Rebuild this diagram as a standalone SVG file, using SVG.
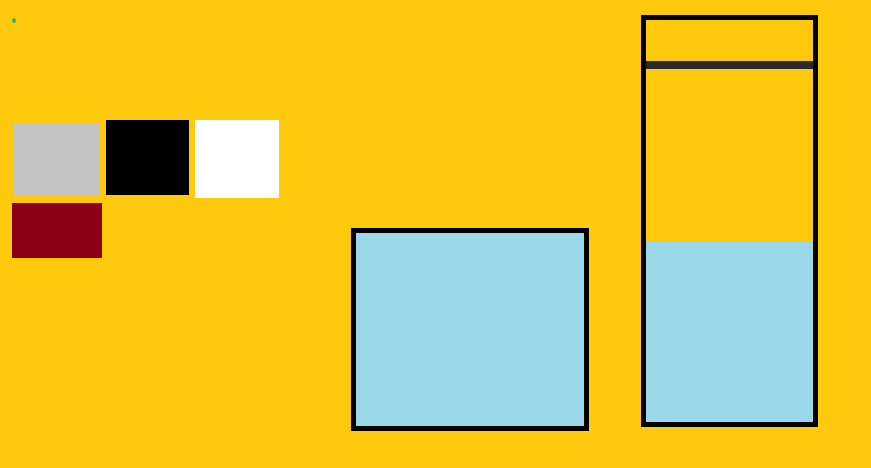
<svg xmlns="http://www.w3.org/2000/svg" width="871" height="468" viewBox="0 0 871 468">
<style>
.frame{fill:none;stroke:#000;stroke-width:5}
.water{fill:#9ad8e9}
</style>
<rect width="871" height="468" fill="#ffc90e"/>
<g id="dot"><ellipse cx="14" cy="20.5" rx="1.8" ry="2.5" fill="#1db954"/></g>
<g id="swatch-gray"><rect x="13" y="123" width="86" height="72" fill="#c4c4c4"/></g>
<g id="swatch-black"><rect x="106" y="120" width="83" height="75" fill="#000"/></g>
<g id="swatch-white"><rect x="195" y="120" width="84" height="78" fill="#fff"/></g>
<g id="swatch-red"><rect x="12" y="203" width="90" height="55" fill="#8a0015"/></g>
<g id="tank">
<rect class="water" x="353.5" y="230.5" width="233" height="198"/>
<rect class="frame" x="353.5" y="230.5" width="233" height="198"/>
</g>
<g id="column">
<rect class="water" x="646" y="242" width="167" height="182"/>
<rect x="646" y="61" width="167" height="8" fill="#2a2a2a"/>
<rect class="frame" x="643.5" y="17.5" width="172" height="407"/>
</g>
<g id="connectors"/>
</svg>
